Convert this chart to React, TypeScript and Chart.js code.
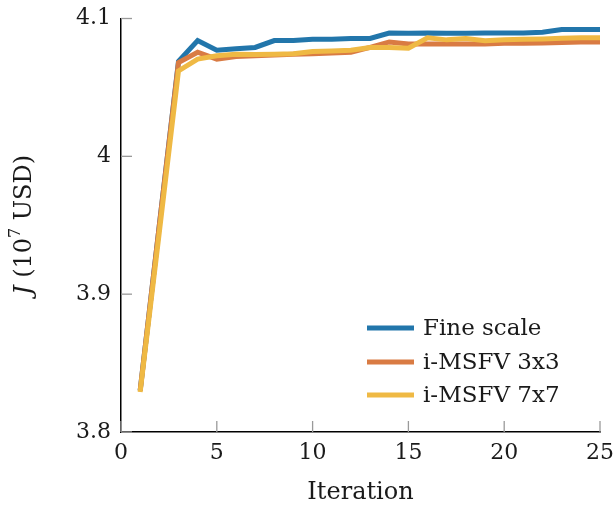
import { useEffect, useRef } from 'react';
import { Chart, registerables } from 'chart.js';

Chart.register(...registerables);

const iterations = [1, 2, 3, 4, 5, 6, 7, 8, 9, 10, 11, 12, 13, 14, 15, 16, 17, 18, 19, 20, 21, 22, 23, 24, 25];
const fineScale = [3.83, 3.95, 4.069, 4.084, 4.077, 4.078, 4.079, 4.084, 4.084, 4.085, 4.085, 4.0855, 4.0855, 4.0895, 4.0893, 4.0895, 4.0893, 4.0893, 4.0895, 4.0895, 4.0895, 4.09, 4.092, 4.092, 4.092];
const msfv3 = [3.83, 3.95, 4.068, 4.0755, 4.0705, 4.0725, 4.073, 4.0735, 4.074, 4.0745, 4.075, 4.0755, 4.079, 4.083, 4.0815, 4.0815, 4.0815, 4.0815, 4.0815, 4.082, 4.082, 4.0822, 4.0825, 4.083, 4.083];
const msfv7 = [3.829, 3.945, 4.062, 4.0705, 4.073, 4.074, 4.0738, 4.074, 4.0745, 4.076, 4.0765, 4.077, 4.079, 4.079, 4.0785, 4.086, 4.0845, 4.0855, 4.0838, 4.0845, 4.085, 4.0852, 4.0857, 4.086, 4.086];
const seriesLabels = ['Fine scale', 'i-MSFV 3x3', 'i-MSFV 7x7'];
const seriesColors = ['#2276ab', '#d97b43', '#efb944'];
const xTicks = [0, 5, 10, 15, 20, 25];
const yTicks = [3.8, 3.9, 4.0, 4.1];
const xTitle = 'Iteration';

const FONT = '"DejaVu Serif", serif';
const TEXT = '#1a1a1a';

const decorPlugin = {
  id: 'decor',
  beforeDatasetsDraw(chart: any) {
    const { ctx, chartArea, scales } = chart;
    ctx.save();
    ctx.strokeStyle = '#9a9a9a';
    ctx.lineWidth = 1.3;
    const len = 11;
    xTicks.forEach((v) => {
      const x = scales.x.getPixelForValue(v);
      ctx.beginPath();
      ctx.moveTo(x, chartArea.bottom);
      ctx.lineTo(x, chartArea.bottom - len);
      ctx.stroke();
    });
    yTicks.forEach((v) => {
      const y = scales.y.getPixelForValue(v);
      ctx.beginPath();
      ctx.moveTo(chartArea.left, y);
      ctx.lineTo(chartArea.left + len, y);
      ctx.stroke();
    });
    ctx.restore();
  },
  afterDraw(chart: any) {
    const { ctx, chartArea } = chart;
    ctx.save();
    // legend
    const ys = [328, 362, 395];
    chart.data.datasets.forEach((ds: any, i: number) => {
      ctx.strokeStyle = ds.borderColor;
      ctx.lineWidth = 5;
      ctx.beginPath();
      ctx.moveTo(367, ys[i]);
      ctx.lineTo(414, ys[i]);
      ctx.stroke();
      ctx.fillStyle = TEXT;
      ctx.font = `23px ${FONT}`;
      ctx.textBaseline = 'middle';
      ctx.textAlign = 'left';
      ctx.fillText(ds.label, 423, ys[i] + 1);
    });
    // x title
    ctx.fillStyle = TEXT;
    ctx.font = `24px ${FONT}`;
    ctx.textAlign = 'center';
    ctx.textBaseline = 'middle';
    ctx.fillText(xTitle, (chartArea.left + chartArea.right) / 2, 493);
    // y title
    ctx.translate(25, 225);
    ctx.rotate(-Math.PI / 2);
    const parts = [
      { t: 'J', f: `italic 24px ${FONT}`, dy: 0 },
      { t: ' (10', f: `24px ${FONT}`, dy: 0 },
      { t: '7', f: `16px ${FONT}`, dy: -9 },
      { t: ' USD)', f: `24px ${FONT}`, dy: 0 },
    ];
    let total = 0;
    parts.forEach((p) => {
      ctx.font = p.f;
      total += ctx.measureText(p.t).width;
    });
    let x = -total / 2;
    ctx.textAlign = 'left';
    ctx.textBaseline = 'middle';
    parts.forEach((p) => {
      ctx.font = p.f;
      ctx.fillText(p.t, x, p.dy);
      x += ctx.measureText(p.t).width;
    });
    ctx.restore();
  },
};

export default function App() {
  const ref = useRef<HTMLCanvasElement>(null);
  useEffect(() => {
    if (!ref.current) return;
    const series = [fineScale, msfv3, msfv7];
    const chart = new Chart(ref.current, {
      type: 'line',
      data: {
        datasets: series.map((vals, i) => ({
          label: seriesLabels[i],
          data: iterations.map((it, j) => ({ x: it, y: vals[j] })),
          borderColor: seriesColors[i],
          backgroundColor: seriesColors[i],
          borderWidth: 5,
          pointRadius: 0,
          tension: 0,
          fill: false,
          order: 3 - i,
        })),
      },
      options: {
        responsive: false,
        animation: false,
        devicePixelRatio: 1,
        layout: { padding: { left: 0, top: 18.5, right: 15, bottom: 0 } },
        plugins: { legend: { display: false }, tooltip: { enabled: false } },
        scales: {
          x: {
            type: 'linear',
            min: 0,
            max: 25,
            afterBuildTicks: (s: any) => { s.ticks = xTicks.map((v) => ({ value: v })); },
            afterFit: (s: any) => {
              s.height = 77;
              s.paddingLeft = 0;
              s.paddingRight = 0;
              s.paddingTop = 0;
              s.paddingBottom = 0;
            },
            grid: { display: false, drawTicks: false },
            border: { display: true, color: '#000', width: 1.5 },
            ticks: { font: { family: FONT, size: 22 }, color: TEXT, padding: 8, maxRotation: 0 },
          },
          y: {
            type: 'linear',
            min: 3.8,
            max: 4.1,
            afterBuildTicks: (s: any) => { s.ticks = yTicks.map((v) => ({ value: v })); },
            afterFit: (s: any) => {
              s.width = 121;
              s.paddingLeft = 0;
              s.paddingRight = 0;
              s.paddingTop = 0;
              s.paddingBottom = 0;
            },
            grid: { display: false, drawTicks: false },
            border: { display: true, color: '#000', width: 1.5 },
            ticks: {
              font: { family: FONT, size: 22 },
              color: TEXT,
              padding: 10,
              callback: (v: any) => String(Number(Number(v).toFixed(1))),
            },
          },
        },
      },
      plugins: [decorPlugin],
    });
    return () => chart.destroy();
  }, []);
  return (
    <div style={{ position: 'fixed', left: 0, top: 0, width: 615, height: 509, background: '#fff' }}>
      <canvas ref={ref} width={615} height={509} style={{ display: 'block' }} />
    </div>
  );
}
